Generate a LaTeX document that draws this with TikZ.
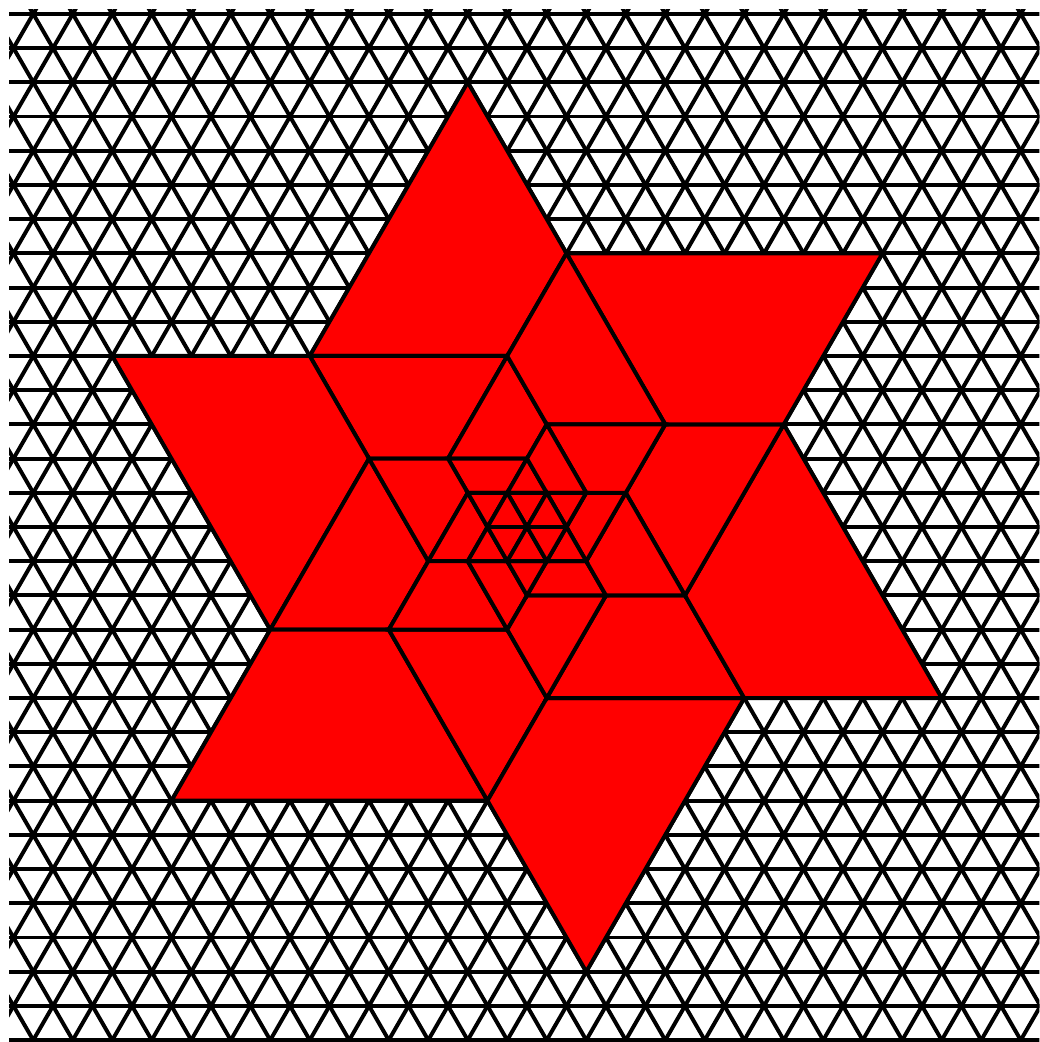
\documentclass[tikz,border=0pt]{standalone}
\usepackage{xcolor}
\usepackage{tikz}
\definecolor{Ink}{HTML}{000000}
\definecolor{StarRed}{HTML}{FF0000}
\tikzset{
  gridline/.style={draw=Ink,line width=1mm},
  piece/.style={draw=Ink,fill=StarRed,line width=1mm}
}

\begin{document}
\begin{tikzpicture}[x={(1cm,0cm)},y={(0.5cm,0.8660254cm)}]
  \useasboundingbox (-13.342cm,-13.038cm) rectangle (12.962cm,13.342cm);
  \begin{scope}
    \clip (-13.11cm,-13.04cm) rectangle (12.97cm,13.09cm);
    \foreach \k in {-16,...,16}
      \draw[gridline] (-40,\k) -- (40,\k);
    \foreach \c in {-24,...,24} {
      \draw[gridline] (\c,-16) -- (\c,16);
      \draw[gridline] (\c+16,-16) -- (\c-16,16);
    }
  \end{scope}
  \foreach \r in {0,...,5} {
    \begin{scope}[rotate=60*\r]
      \filldraw[piece] (-8,13) -- (-8,5) -- (-3,5) -- (-3,8) -- cycle;
      \filldraw[piece] (-3,5) -- (-8,5) -- (-5,2) -- (-3,2) -- cycle;
      \filldraw[piece] (-3,5) -- (-3,2) -- (-1,2) -- (-1,3) -- cycle;
      \filldraw[piece] (-1,2) -- (-3,2) -- (-2,1) -- (-1,1) -- cycle;
      \filldraw[piece] (-1,2) -- (-1,1) -- (0,1) -- cycle;
      \filldraw[piece] (0,0) -- (0,1) -- (-1,1) -- cycle;
    \end{scope}
  }
\end{tikzpicture}
\end{document}
